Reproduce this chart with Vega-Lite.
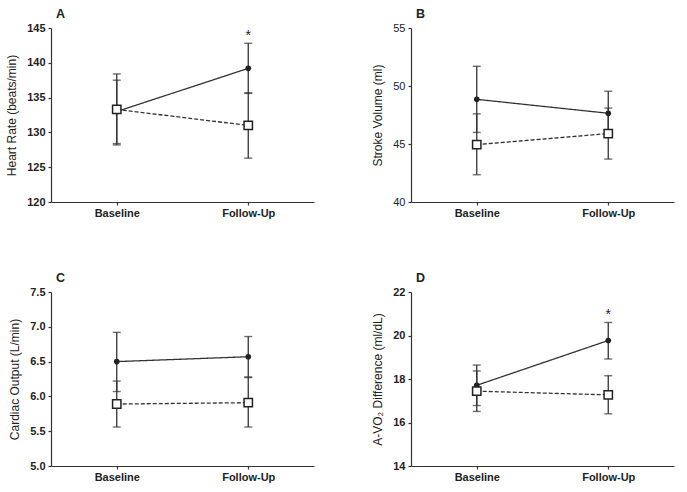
{
  "$schema": "https://vega.github.io/schema/vega-lite/v6.json",
  "background": "white",
  "padding": {"left": 5, "top": 7, "right": 5, "bottom": 3},
  "config": {
    "view": {"stroke": null},
    "font": "Liberation Sans",
    "axis": {
      "domainColor": "#333333", "tickColor": "#333333", "labelColor": "#222222", "titleColor": "#222222",
      "labelFont": "Liberation Sans", "titleFont": "Liberation Sans", "grid": false, "labelOverlap": false,
      "tickSize": 3, "domainWidth": 1.2, "tickWidth": 1.2, "labelFontSize": 11, "titleFontSize": 12, "titleFontWeight": "normal"
    },
    "axisX": {"labelFontWeight": "bold", "labelAngle": 0, "title": null, "labelPadding": 2},
    "axisY": {"labelFontWeight": "bold", "titlePadding": 8, "labelPadding": 3},
    "title": {"font": "Liberation Sans", "fontSize": 12.5, "fontWeight": "bold", "anchor": "start", "frame": "group", "color": "#222222", "offset": 2, "dx": 5}
  },
  "datasets": {
    "vals": [
      {"panel": "A", "group": "G1", "time": "Baseline", "mean": 133.0, "lo": 128.4, "hi": 137.5, "sig": ""},
      {"panel": "A", "group": "G1", "time": "Follow-Up", "mean": 139.2, "lo": 135.6, "hi": 142.8, "sig": "*"},
      {"panel": "A", "group": "G2", "time": "Baseline", "mean": 133.3, "lo": 128.2, "hi": 138.4, "sig": ""},
      {"panel": "A", "group": "G2", "time": "Follow-Up", "mean": 131.0, "lo": 126.3, "hi": 135.7, "sig": ""},
      {"panel": "B", "group": "G1", "time": "Baseline", "mean": 48.85, "lo": 46.0, "hi": 51.7, "sig": ""},
      {"panel": "B", "group": "G1", "time": "Follow-Up", "mean": 47.65, "lo": 45.7, "hi": 49.55, "sig": ""},
      {"panel": "B", "group": "G2", "time": "Baseline", "mean": 44.95, "lo": 42.35, "hi": 47.6, "sig": ""},
      {"panel": "B", "group": "G2", "time": "Follow-Up", "mean": 45.9, "lo": 43.7, "hi": 48.1, "sig": ""},
      {"panel": "C", "group": "G1", "time": "Baseline", "mean": 6.5, "lo": 6.07, "hi": 6.92, "sig": ""},
      {"panel": "C", "group": "G1", "time": "Follow-Up", "mean": 6.57, "lo": 6.28, "hi": 6.86, "sig": ""},
      {"panel": "C", "group": "G2", "time": "Baseline", "mean": 5.89, "lo": 5.56, "hi": 6.22, "sig": ""},
      {"panel": "C", "group": "G2", "time": "Follow-Up", "mean": 5.91, "lo": 5.56, "hi": 6.27, "sig": ""},
      {"panel": "D", "group": "G1", "time": "Baseline", "mean": 17.71, "lo": 16.78, "hi": 18.64, "sig": ""},
      {"panel": "D", "group": "G1", "time": "Follow-Up", "mean": 19.77, "lo": 18.92, "hi": 20.6, "sig": "*"},
      {"panel": "D", "group": "G2", "time": "Baseline", "mean": 17.44, "lo": 16.51, "hi": 18.37, "sig": ""},
      {"panel": "D", "group": "G2", "time": "Follow-Up", "mean": 17.27, "lo": 16.4, "hi": 18.15, "sig": ""}
    ]
  },
  "vconcat": [
    {
      "hconcat": [
        {
          "title": "A", "width": 263, "height": 174,
          "data": {"name": "vals"}, "transform": [{"filter": "datum.panel === 'A'"}],
          "encoding": {
            "x": {"field": "time", "type": "nominal", "sort": ["Baseline", "Follow-Up"], "scale": {"type": "point", "padding": 0.5}}
          },
          "layer": [
            {"mark": {"type": "rule", "color": "#333333", "strokeWidth": 1.3}, "encoding": {"y": {"field": "lo", "type": "quantitative", "scale": {"domain": [120, 145], "nice": false, "zero": false}, "axis": {"values": [120, 125, 130, 135, 140, 145], "labelOverlap": false, "title": "Heart Rate (beats/min)"}}, "y2": {"field": "hi"}}},
            {"mark": {"type": "tick", "color": "#333333", "size": 8, "thickness": 1.4}, "encoding": {"y": {"field": "lo", "type": "quantitative", "axis": {"values": [120, 125, 130, 135, 140, 145], "labelOverlap": false, "title": "Heart Rate (beats/min)"}}}},
            {"mark": {"type": "tick", "color": "#333333", "size": 8, "thickness": 1.4}, "encoding": {"y": {"field": "hi", "type": "quantitative", "axis": {"values": [120, 125, 130, 135, 140, 145], "labelOverlap": false, "title": "Heart Rate (beats/min)"}}}},
            {"mark": {"type": "line", "color": "#333333", "strokeWidth": 1.3}, "encoding": {"y": {"field": "mean", "type": "quantitative", "axis": {"values": [120, 125, 130, 135, 140, 145], "labelOverlap": false, "title": "Heart Rate (beats/min)"}}, "detail": {"field": "group"}, "strokeDash": {"field": "group", "type": "nominal", "scale": {"domain": ["G1", "G2"], "range": [[1, 0], [4, 2]]}, "legend": null}}},
            {"mark": {"type": "point", "filled": true, "color": "#222222", "shape": "circle", "size": 32, "opacity": 1}, "transform": [{"filter": "datum.group === 'G1'"}], "encoding": {"y": {"field": "mean", "type": "quantitative", "axis": {"values": [120, 125, 130, 135, 140, 145], "labelOverlap": false, "title": "Heart Rate (beats/min)"}}}},
            {"mark": {"type": "point", "filled": false, "fill": "white", "stroke": "#222222", "strokeWidth": 1.5, "shape": "square", "size": 70, "opacity": 1}, "transform": [{"filter": "datum.group === 'G2'"}], "encoding": {"y": {"field": "mean", "type": "quantitative", "axis": {"values": [120, 125, 130, 135, 140, 145], "labelOverlap": false, "title": "Heart Rate (beats/min)"}}}},
            {"mark": {"type": "text", "fontSize": 14, "dy": -7, "baseline": "middle", "color": "#222222"}, "encoding": {"y": {"field": "hi", "type": "quantitative", "axis": {"values": [120, 125, 130, 135, 140, 145], "labelOverlap": false, "title": "Heart Rate (beats/min)"}}, "text": {"field": "sig"}}}
          ]
        },
        {
          "title": "B", "width": 263, "height": 174,
          "data": {"name": "vals"}, "transform": [{"filter": "datum.panel === 'B'"}],
          "encoding": {
            "x": {"field": "time", "type": "nominal", "sort": ["Baseline", "Follow-Up"], "scale": {"type": "point", "padding": 0.5}}
          },
          "layer": [
            {"mark": {"type": "rule", "color": "#333333", "strokeWidth": 1.3}, "encoding": {"y": {"field": "lo", "type": "quantitative", "scale": {"domain": [40, 55], "nice": false, "zero": false}, "axis": {"values": [40, 45, 50, 55], "labelOverlap": false, "title": "Stroke Volume (ml)", "labelFontWeight": "normal"}}, "y2": {"field": "hi"}}},
            {"mark": {"type": "tick", "color": "#333333", "size": 8, "thickness": 1.4}, "encoding": {"y": {"field": "lo", "type": "quantitative", "axis": {"values": [40, 45, 50, 55], "labelOverlap": false, "title": "Stroke Volume (ml)", "labelFontWeight": "normal"}}}},
            {"mark": {"type": "tick", "color": "#333333", "size": 8, "thickness": 1.4}, "encoding": {"y": {"field": "hi", "type": "quantitative", "axis": {"values": [40, 45, 50, 55], "labelOverlap": false, "title": "Stroke Volume (ml)", "labelFontWeight": "normal"}}}},
            {"mark": {"type": "line", "color": "#333333", "strokeWidth": 1.3}, "encoding": {"y": {"field": "mean", "type": "quantitative", "axis": {"values": [40, 45, 50, 55], "labelOverlap": false, "title": "Stroke Volume (ml)", "labelFontWeight": "normal"}}, "detail": {"field": "group"}, "strokeDash": {"field": "group", "type": "nominal", "scale": {"domain": ["G1", "G2"], "range": [[1, 0], [4, 2]]}, "legend": null}}},
            {"mark": {"type": "point", "filled": true, "color": "#222222", "shape": "circle", "size": 32, "opacity": 1}, "transform": [{"filter": "datum.group === 'G1'"}], "encoding": {"y": {"field": "mean", "type": "quantitative", "axis": {"values": [40, 45, 50, 55], "labelOverlap": false, "title": "Stroke Volume (ml)", "labelFontWeight": "normal"}}}},
            {"mark": {"type": "point", "filled": false, "fill": "white", "stroke": "#222222", "strokeWidth": 1.5, "shape": "square", "size": 70, "opacity": 1}, "transform": [{"filter": "datum.group === 'G2'"}], "encoding": {"y": {"field": "mean", "type": "quantitative", "axis": {"values": [40, 45, 50, 55], "labelOverlap": false, "title": "Stroke Volume (ml)", "labelFontWeight": "normal"}}}}
          ]
        }
      ],
      "spacing": 57
    },
    {
      "hconcat": [
        {
          "title": "C", "width": 263, "height": 174,
          "data": {"name": "vals"}, "transform": [{"filter": "datum.panel === 'C'"}],
          "encoding": {
            "x": {"field": "time", "type": "nominal", "sort": ["Baseline", "Follow-Up"], "scale": {"type": "point", "padding": 0.5}}
          },
          "layer": [
            {"mark": {"type": "rule", "color": "#333333", "strokeWidth": 1.3}, "encoding": {"y": {"field": "lo", "type": "quantitative", "scale": {"domain": [5, 7.5], "nice": false, "zero": false}, "axis": {"values": [5, 5.5, 6, 6.5, 7, 7.5], "labelOverlap": false, "format": ".1f", "title": "Cardiac Output (L/min)"}}, "y2": {"field": "hi"}}},
            {"mark": {"type": "tick", "color": "#333333", "size": 8, "thickness": 1.4}, "encoding": {"y": {"field": "lo", "type": "quantitative", "axis": {"values": [5, 5.5, 6, 6.5, 7, 7.5], "labelOverlap": false, "format": ".1f", "title": "Cardiac Output (L/min)"}}}},
            {"mark": {"type": "tick", "color": "#333333", "size": 8, "thickness": 1.4}, "encoding": {"y": {"field": "hi", "type": "quantitative", "axis": {"values": [5, 5.5, 6, 6.5, 7, 7.5], "labelOverlap": false, "format": ".1f", "title": "Cardiac Output (L/min)"}}}},
            {"mark": {"type": "line", "color": "#333333", "strokeWidth": 1.3}, "encoding": {"y": {"field": "mean", "type": "quantitative", "axis": {"values": [5, 5.5, 6, 6.5, 7, 7.5], "labelOverlap": false, "format": ".1f", "title": "Cardiac Output (L/min)"}}, "detail": {"field": "group"}, "strokeDash": {"field": "group", "type": "nominal", "scale": {"domain": ["G1", "G2"], "range": [[1, 0], [4, 2]]}, "legend": null}}},
            {"mark": {"type": "point", "filled": true, "color": "#222222", "shape": "circle", "size": 32, "opacity": 1}, "transform": [{"filter": "datum.group === 'G1'"}], "encoding": {"y": {"field": "mean", "type": "quantitative", "axis": {"values": [5, 5.5, 6, 6.5, 7, 7.5], "labelOverlap": false, "format": ".1f", "title": "Cardiac Output (L/min)"}}}},
            {"mark": {"type": "point", "filled": false, "fill": "white", "stroke": "#222222", "strokeWidth": 1.5, "shape": "square", "size": 70, "opacity": 1}, "transform": [{"filter": "datum.group === 'G2'"}], "encoding": {"y": {"field": "mean", "type": "quantitative", "axis": {"values": [5, 5.5, 6, 6.5, 7, 7.5], "labelOverlap": false, "format": ".1f", "title": "Cardiac Output (L/min)"}}}}
          ]
        },
        {
          "title": "D", "width": 263, "height": 174,
          "data": {"name": "vals"}, "transform": [{"filter": "datum.panel === 'D'"}],
          "encoding": {
            "x": {"field": "time", "type": "nominal", "sort": ["Baseline", "Follow-Up"], "scale": {"type": "point", "padding": 0.5}}
          },
          "layer": [
            {"mark": {"type": "rule", "color": "#333333", "strokeWidth": 1.3}, "encoding": {"y": {"field": "lo", "type": "quantitative", "scale": {"domain": [14, 22], "nice": false, "zero": false}, "axis": {"values": [14, 16, 18, 20, 22], "labelOverlap": false, "title": "A-VO₂ Difference (ml/dL)"}}, "y2": {"field": "hi"}}},
            {"mark": {"type": "tick", "color": "#333333", "size": 8, "thickness": 1.4}, "encoding": {"y": {"field": "lo", "type": "quantitative", "axis": {"values": [14, 16, 18, 20, 22], "labelOverlap": false, "title": "A-VO₂ Difference (ml/dL)"}}}},
            {"mark": {"type": "tick", "color": "#333333", "size": 8, "thickness": 1.4}, "encoding": {"y": {"field": "hi", "type": "quantitative", "axis": {"values": [14, 16, 18, 20, 22], "labelOverlap": false, "title": "A-VO₂ Difference (ml/dL)"}}}},
            {"mark": {"type": "line", "color": "#333333", "strokeWidth": 1.3}, "encoding": {"y": {"field": "mean", "type": "quantitative", "axis": {"values": [14, 16, 18, 20, 22], "labelOverlap": false, "title": "A-VO₂ Difference (ml/dL)"}}, "detail": {"field": "group"}, "strokeDash": {"field": "group", "type": "nominal", "scale": {"domain": ["G1", "G2"], "range": [[1, 0], [4, 2]]}, "legend": null}}},
            {"mark": {"type": "point", "filled": true, "color": "#222222", "shape": "circle", "size": 32, "opacity": 1}, "transform": [{"filter": "datum.group === 'G1'"}], "encoding": {"y": {"field": "mean", "type": "quantitative", "axis": {"values": [14, 16, 18, 20, 22], "labelOverlap": false, "title": "A-VO₂ Difference (ml/dL)"}}}},
            {"mark": {"type": "point", "filled": false, "fill": "white", "stroke": "#222222", "strokeWidth": 1.5, "shape": "square", "size": 70, "opacity": 1}, "transform": [{"filter": "datum.group === 'G2'"}], "encoding": {"y": {"field": "mean", "type": "quantitative", "axis": {"values": [14, 16, 18, 20, 22], "labelOverlap": false, "title": "A-VO₂ Difference (ml/dL)"}}}},
            {"mark": {"type": "text", "fontSize": 14, "dy": -7, "baseline": "middle", "color": "#222222"}, "encoding": {"y": {"field": "hi", "type": "quantitative", "axis": {"values": [14, 16, 18, 20, 22], "labelOverlap": false, "title": "A-VO₂ Difference (ml/dL)"}}, "text": {"field": "sig"}}}
          ]
        }
      ],
      "spacing": 57
    }
  ],
  "spacing": 53
}
